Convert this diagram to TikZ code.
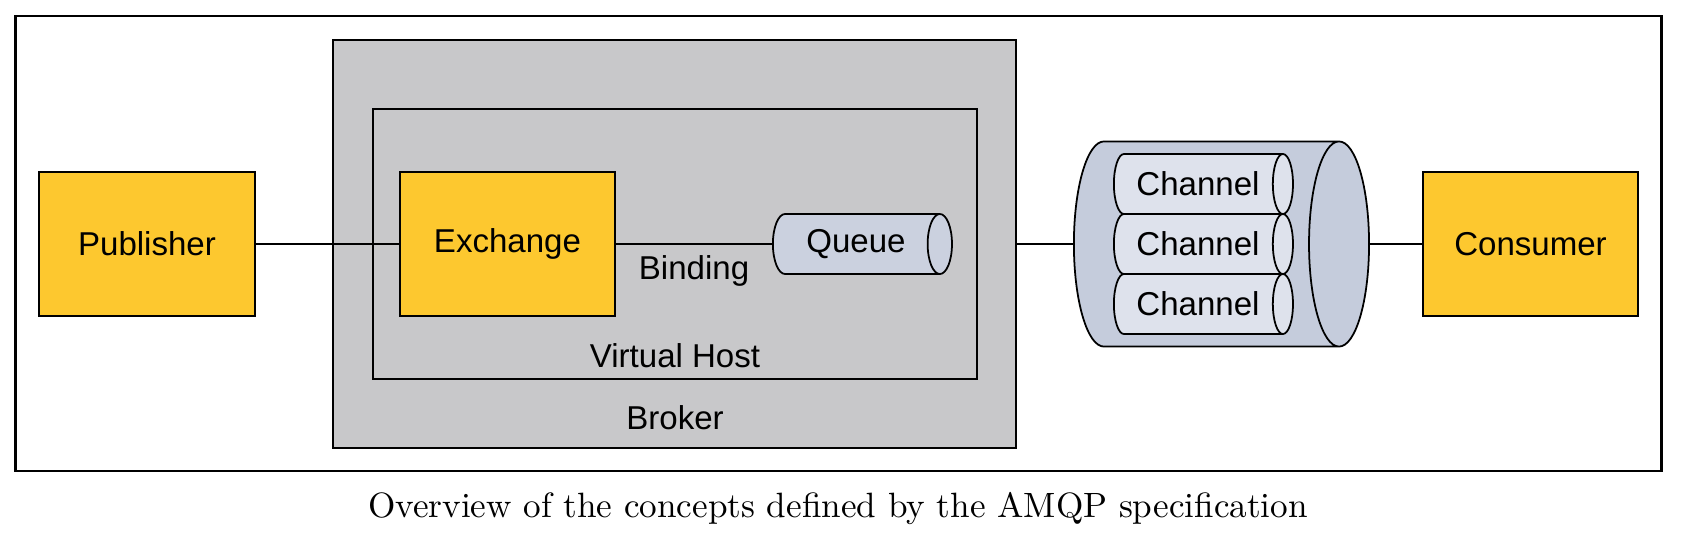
\documentclass[tikz,border=0pt]{standalone}
\usepackage{fontspec}
\newfontfamily\labelfont{Liberation Sans}
\usetikzlibrary{shapes.geometric}

\definecolor{boxyellow}{RGB}{253,200,47}
\definecolor{brokergray}{RGB}{200,200,202}
\definecolor{pipeblue}{RGB}{197,204,220}
\definecolor{chanblue}{RGB}{222,226,236}

\tikzset{
  box/.style={draw, line width=0.6pt, fill=boxyellow, minimum width=2.15cm, minimum height=1.44cm, inner sep=0pt, font=\labelfont\fontsize{9.4}{11}\selectfont},
  frame/.style={draw, line width=0.6pt, inner sep=0pt},
  pipe/.style={shape=cylinder, draw, line width=0.5pt, inner sep=0pt, anchor=west, cylinder uses custom fill, font=\labelfont\fontsize{9.4}{11}\selectfont},
  chan/.style={pipe, cylinder body fill=chanblue, cylinder end fill=chanblue, shape aspect=0.83, minimum height=1.79cm, minimum width=0.6cm},
  lbl/.style={font=\labelfont\fontsize{9.4}{11}\selectfont, inner sep=0pt},
  link/.style={line width=0.45pt}
}

\begin{document}
\begin{tikzpicture}[x=0.01cm, y=-0.01cm]
\useasboundingbox (0,0) rectangle (1682,536);
% outer frame and broker
\node[frame, minimum width=16.45cm, minimum height=4.55cm] (outer) at (838.5,243.5) {};
\node[frame, fill=brokergray, minimum width=6.83cm, minimum height=4.08cm] (broker) at (674.5,244) {};
\node[frame, minimum width=6.04cm, minimum height=2.69cm] (vhost) at (675,244) {};
\node[lbl] (vhostlbl) at (675,356) {Virtual Host};
\node[lbl] (brokerlbl) at (675,418) {Broker};

% producer side
\node[box] (pub) at (147,244) {Publisher};
\node[box] (exch) at (507.5,244) {Exchange};
\node[pipe, cylinder body fill=pipeblue!90, cylinder end fill=pipeblue!90, shape aspect=0.83, minimum height=1.79cm, minimum width=0.6cm] (queue) at (772,244) {Queue};

% connection with channels
\node[pipe, cylinder body fill=pipeblue, cylinder end fill=pipeblue, shape aspect=1, inner ysep=0.3cm, minimum height=2.95cm, minimum width=2.05cm] (conn) at (1073,244) {};
\node[chan] (ch1) at (1113,184) {Channel};
\node[chan] (ch2) at (1113,244) {Channel};
\node[chan] (ch3) at (1113,304) {Channel};

\node[box] (cons) at (1530.5,244) {Consumer};

% links
\draw[link] (pub) -- (exch);
\draw[link] (exch) -- node[lbl, below, inner sep=3pt] (bind) {Binding} (queue);
\draw[link] (broker) -- (conn);
\draw[link] (conn) -- (cons);

\node[anchor=base, font=\fontsize{10}{12}\selectfont, inner sep=0pt] (caption) at (838,517) {Overview of the concepts defined by the AMQP specification};
\end{tikzpicture}
\end{document}
